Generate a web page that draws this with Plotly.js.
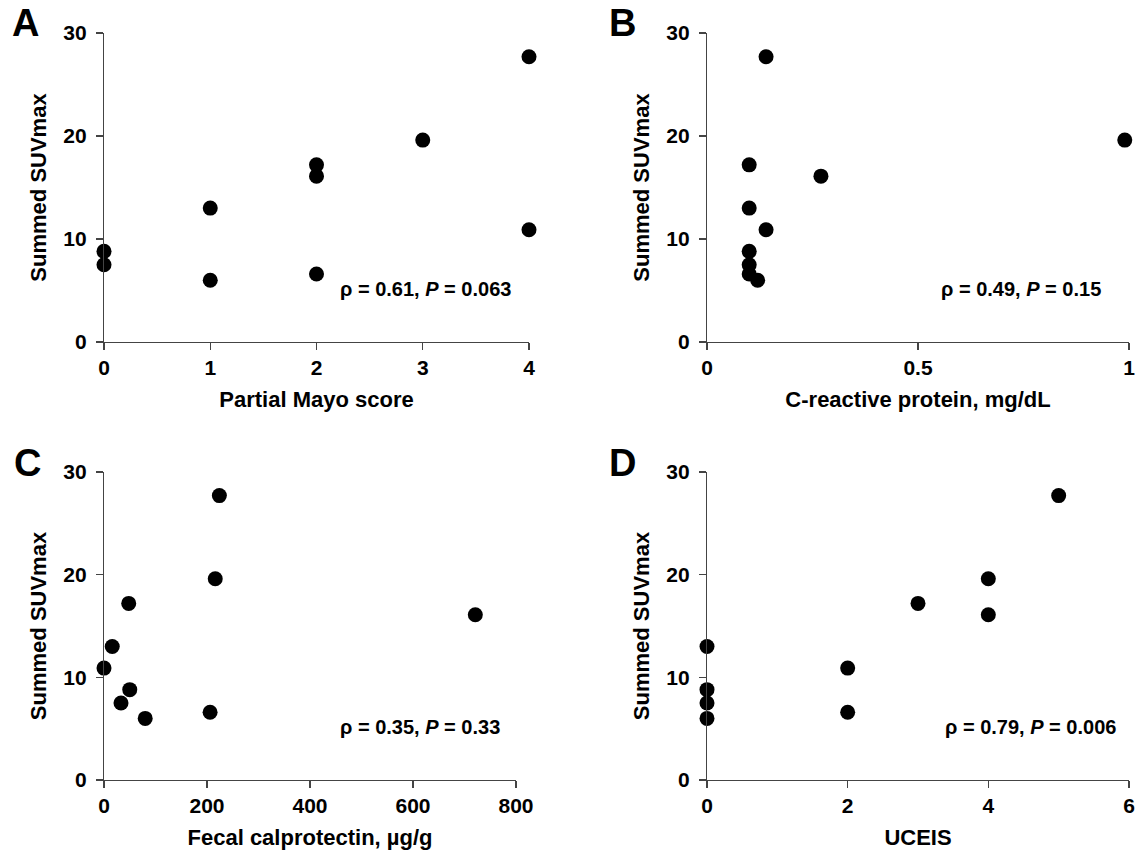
<!DOCTYPE html>
<html>
<head>
<meta charset="utf-8">
<script src="https://cdn.plot.ly/plotly-3.0.1.min.js"></script>
<style>html,body{margin:0;padding:0;background:#fff;}#chart{width:1142px;height:859px;}</style>
</head>
<body>
<div id="chart"></div>
<script>
// Summed SUVmax per patient (y values shared by all panels)
const suvmax = [27.7, 19.6, 17.2, 16.1, 13.0, 10.9, 8.8, 7.5, 6.6, 6.0];
// Panel A: Partial Mayo score
const mayo = [4, 3, 2, 2, 1, 4, 0, 0, 2, 1];
// Panel B: C-reactive protein, mg/dL
const crp = [0.14, 0.99, 0.10, 0.27, 0.10, 0.14, 0.10, 0.10, 0.10, 0.12];
// Panel C: Fecal calprotectin, µg/g
const calprotectin = [224, 216, 48, 721, 16, 0, 50, 33, 206, 80];
// Panel D: UCEIS
const uceis = [5, 4, 3, 4, 0, 2, 0, 0, 2, 0];

const panelLetters = ['A', 'B', 'C', 'D'];
const xTitles = ['Partial Mayo score', 'C-reactive protein, mg/dL', 'Fecal calprotectin, µg/g', 'UCEIS'];
const yTitle = 'Summed SUVmax';
const statTexts = [
  'ρ = 0.61, <i>P</i> = 0.063',
  'ρ = 0.49, <i>P</i> = 0.15',
  'ρ = 0.35, <i>P</i> = 0.33',
  'ρ = 0.79, <i>P</i> = 0.006'
];
const xRanges = [[0, 4], [0, 1], [0, 800], [0, 6]];
const xTickVals = [[0, 1, 2, 3, 4], [0, 0.5, 1], [0, 200, 400, 600, 800], [0, 2, 4, 6]];
const xTickText = [['0', '1', '2', '3', '4'], ['0', '0.5', '1'], ['0', '200', '400', '600', '800'], ['0', '2', '4', '6']];
const yTickVals = [0, 10, 20, 30];

const xData = [mayo, crp, calprotectin, uceis];

const W = 1142, H = 859;
// pixel boxes of plot areas
const boxes = [
  {l: 104, r: 529, t: 33, b: 342},
  {l: 707, r: 1129, t: 33, b: 342},
  {l: 104, r: 516, t: 472, b: 780},
  {l: 707, r: 1129, t: 472, b: 780}
];
const letterPos = [[25, 23], [622, 23], [27, 463], [622, 463]];
const statPos = [[513, 289], [1103, 289], [502, 727], [1118, 727]];

const FONT = 'Liberation Sans, Arial, Helvetica, sans-serif';
const traces = [];
const layout = {
  width: W, height: H,
  margin: {l: 0, r: 0, t: 0, b: 0},
  paper_bgcolor: '#fff', plot_bgcolor: 'rgba(0,0,0,0)',
  showlegend: false,
  font: {family: FONT, color: '#000', weight: 'bold'},
  annotations: []
};

for (let i = 0; i < 4; i++) {
  const sfx = i === 0 ? '' : String(i + 1);
  traces.push({
    type: 'scatter', mode: 'markers',
    x: xData[i], y: suvmax,
    xaxis: 'x' + sfx, yaxis: 'y' + sfx,
    cliponaxis: false,
    marker: {color: '#000', size: 15, line: {width: 0}},
    hoverinfo: 'x+y'
  });
  const b = boxes[i];
  const axCommon = {
    showgrid: false, zeroline: false, showline: true,
    linecolor: '#444', linewidth: 1.2,
    ticks: 'outside', ticklen: 7, tickwidth: 1.2, tickcolor: '#444',
    tickfont: {family: FONT, size: 21, color: '#000', weight: 'bold'},
    fixedrange: true
  };
  layout['xaxis' + sfx] = Object.assign({}, axCommon, {
    domain: [b.l / W, b.r / W],
    range: xRanges[i], tickmode: 'array', tickvals: xTickVals[i], ticktext: xTickText[i],
    anchor: 'y' + sfx,
    title: {text: xTitles[i], font: {family: FONT, size: 22, color: '#000', weight: 'bold'}, standoff: 13}
  });
  layout['yaxis' + sfx] = Object.assign({}, axCommon, {
    domain: [1 - b.b / H, 1 - b.t / H],
    range: [0, 30], tickmode: 'array', tickvals: yTickVals,
    ticklabelstandoff: 5,
    anchor: 'x' + sfx,
    title: {text: yTitle, font: {family: FONT, size: 22, color: '#000', weight: 'bold'}, standoff: 10}
  });
  layout.annotations.push({
    xref: 'paper', yref: 'paper',
    x: letterPos[i][0] / W, y: 1 - letterPos[i][1] / H,
    xanchor: 'center', yanchor: 'middle',
    text: panelLetters[i], showarrow: false,
    font: {family: FONT, size: 38, color: '#000', weight: 'bold'}
  });
  layout.annotations.push({
    xref: 'paper', yref: 'paper',
    x: statPos[i][0] / W, y: 1 - statPos[i][1] / H,
    xanchor: 'right', yanchor: 'middle',
    text: statTexts[i], showarrow: false,
    font: {family: FONT, size: 20, color: '#000', weight: 'bold'}
  });
}

Plotly.newPlot('chart', traces, layout, {displayModeBar: false, staticPlot: true});
</script>
</body>
</html>
